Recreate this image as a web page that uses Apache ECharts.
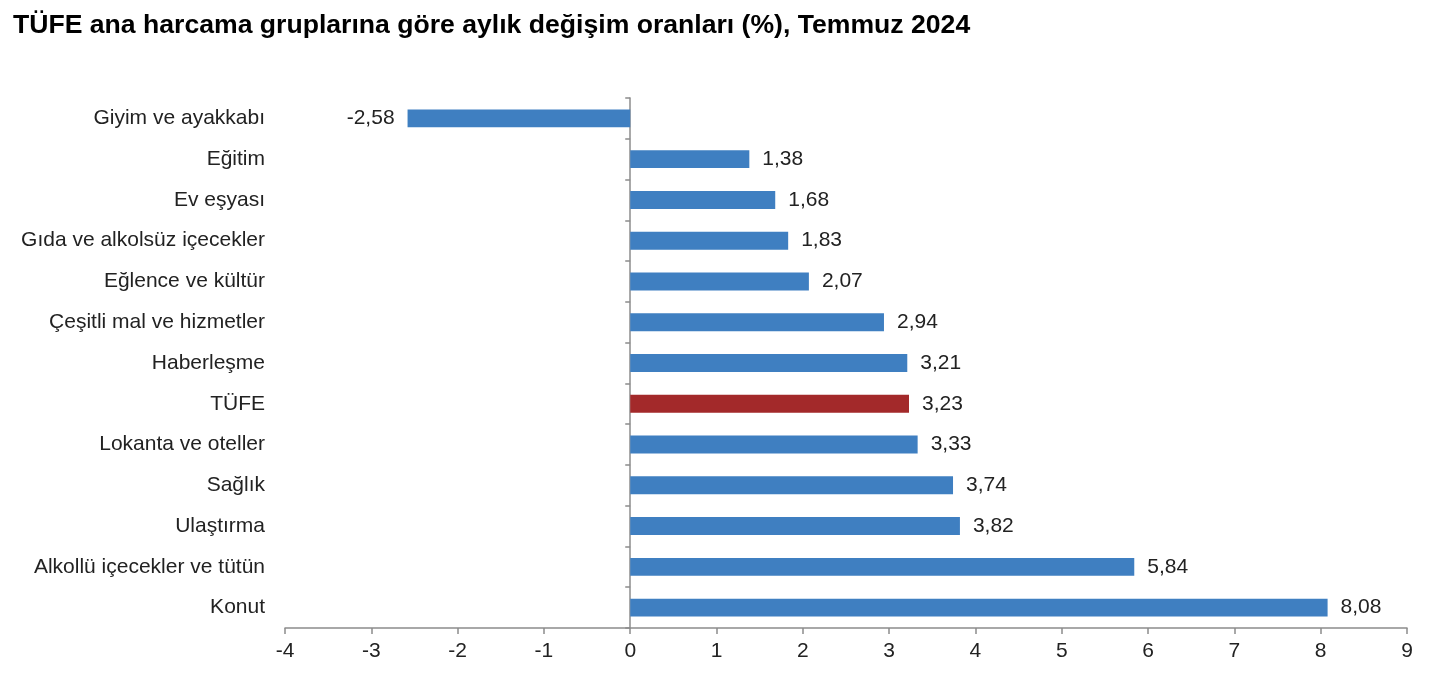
<!DOCTYPE html>
<html>
<head>
<meta charset="utf-8">
<script src="https://cdn.jsdelivr.net/npm/echarts@6/dist/echarts.min.js"></script>
<style>
  html, body { margin: 0; padding: 0; background: #fff; }
  #chart { width: 1430px; height: 678px; }
</style>
</head>
<body>
<div id="chart"></div>
<script>
var categories = ['Giyim ve ayakkabı', 'Eğitim', 'Ev eşyası', 'Gıda ve alkolsüz içecekler',
    'Eğlence ve kültür', 'Çeşitli mal ve hizmetler', 'Haberleşme', 'TÜFE',
    'Lokanta ve oteller', 'Sağlık', 'Ulaştırma', 'Alkollü içecekler ve tütün', 'Konut'];
var values = [-2.58, 1.38, 1.68, 1.83, 2.07, 2.94, 3.21, 3.23, 3.33, 3.74, 3.82, 5.84, 8.08];
var highlight = 'TÜFE';

var chart = echarts.init(document.getElementById('chart'));
var font = 'Liberation Sans, Arial, sans-serif';
var axisGrey = '#8c8c8c';

var option = {
    animation: false,
    title: {
        text: 'TÜFE ana harcama gruplarına göre aylık değişim oranları (%), Temmuz 2024',
        left: 8,
        top: 7,
        textStyle: { fontFamily: font, fontSize: 26.6, fontWeight: 'bold', color: '#000' }
    },
    grid: { left: 285, right: 23, top: 98, bottom: 50, containLabel: false },
    xAxis: {
        type: 'value',
        min: -4,
        max: 9,
        interval: 1,
        splitLine: { show: false },
        axisLine: { show: true, onZero: false, lineStyle: { color: axisGrey, width: 1.5 } },
        axisTick: { show: true, length: 6, lineStyle: { color: axisGrey, width: 1.5 } },
        axisLabel: { fontFamily: font, fontSize: 21, color: '#222', margin: 13 }
    },
    yAxis: [
        {
            type: 'category',
            inverse: true,
            data: categories,
            axisLine: { show: false, onZero: false },
            axisTick: { show: false },
            axisLabel: { fontFamily: font, fontSize: 21, color: '#222', margin: 20 }
        },
        {
            type: 'category',
            inverse: true,
            data: categories,
            position: 'left',
            axisLine: { show: true, onZero: true, lineStyle: { color: axisGrey, width: 1.5 } },
            axisTick: { show: true, length: 5, lineStyle: { color: axisGrey, width: 1.5 } },
            axisLabel: { show: false }
        }
    ],
    series: [{
        type: 'bar',
        yAxisIndex: 0,
        barWidth: '44%',
        data: values.map(function (v, i) {
            return {
                value: v,
                itemStyle: { color: categories[i] === highlight ? '#a3292a' : '#3f7fc1' },
                label: { position: v < 0 ? 'left' : 'right' }
            };
        }),
        label: {
            show: true,
            distance: 13,
            fontFamily: font,
            fontSize: 21,
            color: '#222',
            formatter: function (p) { return p.value.toFixed(2).replace('.', ','); }
        }
    }]
};
chart.setOption(option);
window.addEventListener('resize', function () { chart.resize(); });
</script>
</body>
</html>
